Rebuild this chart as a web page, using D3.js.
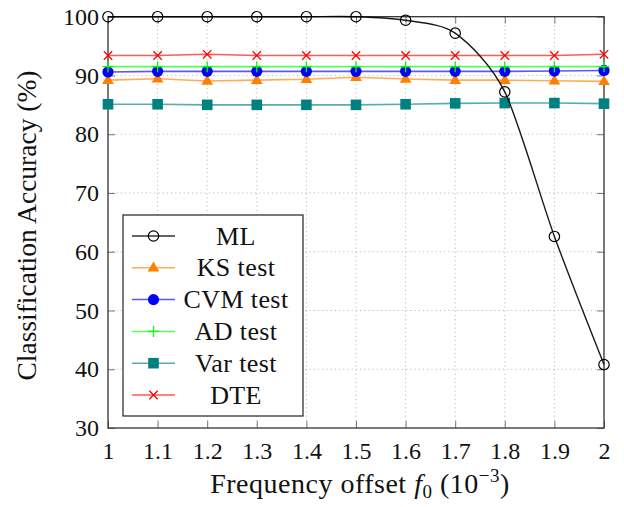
<!DOCTYPE html>
<html>
<head>
<meta charset="utf-8">
<script src="https://cdn.jsdelivr.net/npm/d3@7"></script>
<style>
  html, body { margin: 0; padding: 0; background: #fff; }
  svg { display: block; }
  text { font-family: "Liberation Serif", "DejaVu Serif", serif; fill: #111; }
</style>
</head>
<body>
<svg id="chart" width="624" height="507"></svg>
<script>
// ---- data ----
const xValues = [1, 1.1, 1.2, 1.3, 1.4, 1.5, 1.6, 1.7, 1.8, 1.9, 2];
const xTickLabels = ["1", "1.1", "1.2", "1.3", "1.4", "1.5", "1.6", "1.7", "1.8", "1.9", "2"];
const yTicks = [30, 40, 50, 60, 70, 80, 90, 100];

const mlValues  = [100, 100, 100, 100, 100, 100, 99.4, 97.2, 87.2, 62.6, 40.8];
const ksValues  = [89.2, 89.45, 89.05, 89.2, 89.35, 89.7, 89.4, 89.2, 89.2, 89.1, 89.0];
const cvmValues = [90.6, 90.7, 90.7, 90.7, 90.7, 90.7, 90.7, 90.7, 90.7, 90.75, 90.85];
const adValues  = [91.5, 91.5, 91.5, 91.5, 91.5, 91.5, 91.5, 91.5, 91.5, 91.5, 91.5];
const varValues = [85.1, 85.1, 85.0, 85.0, 85.0, 85.0, 85.1, 85.25, 85.3, 85.3, 85.2];
const dteValues = [93.4, 93.4, 93.6, 93.4, 93.4, 93.4, 93.4, 93.4, 93.4, 93.4, 93.6];

const seriesNames = ["ML", "KS test", "CVM test", "AD test", "Var test", "DTE"];

// ---- layout ----
const svg = d3.select("#chart");
const pLeft = 108, pRight = 604, pTop = 16.7, pBottom = 428;

const x = d3.scaleLinear().domain([1, 2]).range([pLeft, pRight]);
const y = d3.scaleLinear().domain([30, 100]).range([pBottom, pTop]);

const series = [
  { name: seriesNames[0], values: mlValues,  color: "#000000", marker: "circle", smooth: true },
  { name: seriesNames[1], values: ksValues,  color: "#ff8000", marker: "triangle" },
  { name: seriesNames[2], values: cvmValues, color: "#0000ff", marker: "dot" },
  { name: seriesNames[3], values: adValues,  color: "#00ff00", marker: "plus" },
  { name: seriesNames[4], values: varValues, color: "#008080", marker: "square" },
  { name: seriesNames[5], values: dteValues, color: "#ff0000", marker: "cross" }
];

// grid
const grid = svg.append("g");
grid.selectAll("line.vx").data(xValues.slice(1, -1)).join("line")
  .attr("x1", d => x(d)).attr("x2", d => x(d))
  .attr("y1", pTop).attr("y2", pBottom)
  .attr("stroke", "#bdbdbd").attr("stroke-width", 1).attr("stroke-dasharray", "1.2,3");
grid.selectAll("line.hy").data(yTicks.slice(1, -1)).join("line")
  .attr("y1", d => y(d)).attr("y2", d => y(d))
  .attr("x1", pLeft).attr("x2", pRight)
  .attr("stroke", "#bdbdbd").attr("stroke-width", 1).attr("stroke-dasharray", "1.2,3");

// axes via d3 axis (inner ticks on all four sides)
const tickLen = 7;
const axB = svg.append("g").attr("transform", `translate(0,${pBottom})`)
  .call(d3.axisBottom(x).tickValues(xValues).tickFormat((d, i) => xTickLabels[i]).tickSizeInner(-tickLen).tickSizeOuter(0).tickPadding(14));
const axT = svg.append("g").attr("transform", `translate(0,${pTop})`)
  .call(d3.axisTop(x).tickValues(xValues).tickFormat("").tickSizeInner(-tickLen).tickSizeOuter(0));
const axL = svg.append("g").attr("transform", `translate(${pLeft},0)`)
  .call(d3.axisLeft(y).tickValues(yTicks).tickFormat(d3.format("d")).tickSizeInner(-tickLen).tickSizeOuter(0).tickPadding(9));
const axR = svg.append("g").attr("transform", `translate(${pRight},0)`)
  .call(d3.axisRight(y).tickValues(yTicks).tickFormat("").tickSizeInner(-tickLen).tickSizeOuter(0));
[axB, axT, axL, axR].forEach(a => {
  a.select(".domain").remove();
  a.selectAll(".tick line").attr("stroke", "#777").attr("stroke-width", 1);
});
axB.selectAll(".tick text").attr("font-size", 24).attr("font-family", "Liberation Serif").attr("fill", "#111");
axL.selectAll(".tick text").attr("font-size", 24).attr("font-family", "Liberation Serif").attr("fill", "#111");

// frame
svg.append("rect").attr("x", pLeft).attr("y", pTop).attr("width", pRight - pLeft).attr("height", pBottom - pTop)
  .attr("fill", "none").attr("stroke", "#333").attr("stroke-width", 1.3);

// marker drawing
function drawMarker(g, type, color, cx, cy) {
  if (type === "circle") {
    g.append("circle").attr("cx", cx).attr("cy", cy).attr("r", 5.2)
      .attr("fill", "none").attr("stroke", "#000").attr("stroke-width", 1.2);
  } else if (type === "dot") {
    g.append("circle").attr("cx", cx).attr("cy", cy).attr("r", 5.6).attr("fill", color);
  } else if (type === "triangle") {
    const s = 6.2;
    g.append("path").attr("d", `M${cx},${cy - s} L${cx + s * 0.95},${cy + s * 0.6} L${cx - s * 0.95},${cy + s * 0.6}Z`)
      .attr("fill", color);
  } else if (type === "square") {
    g.append("rect").attr("x", cx - 5.3).attr("y", cy - 5.3).attr("width", 10.6).attr("height", 10.6).attr("fill", color);
  } else if (type === "plus") {
    g.append("path").attr("d", `M${cx - 5.5},${cy} H${cx + 5.5} M${cx},${cy - 5.5} V${cy + 5.5}`)
      .attr("stroke", color).attr("stroke-width", 1.3);
  } else if (type === "cross") {
    const s = 4.2;
    g.append("path").attr("d", `M${cx - s},${cy - s} L${cx + s},${cy + s} M${cx - s},${cy + s} L${cx + s},${cy - s}`)
      .attr("stroke", color).attr("stroke-width", 1.3);
  }
}

// series (draw ML last)
const order = [1, 2, 3, 4, 5, 0];
order.forEach(i => {
  const s = series[i];
  const g = svg.append("g");
  const line = d3.line().x((d, j) => x(xValues[j])).y(d => y(d))
    .curve(s.smooth ? d3.curveCardinal.tension(0.2) : d3.curveLinear);
  g.append("path").attr("d", line(s.values)).attr("fill", "none")
    .attr("stroke", s.color).attr("stroke-width", s.smooth ? 1.4 : 1.6)
    .attr("stroke-opacity", s.smooth ? 0.9 : 0.65);
  s.values.forEach((v, j) => drawMarker(g, s.marker, s.color, x(xValues[j]), y(v)));
});

// legend
const lg = svg.append("g");
lg.append("rect").attr("x", 123).attr("y", 215).attr("width", 180).attr("height", 201)
  .attr("fill", "#fff").attr("stroke", "#222").attr("stroke-width", 1.2);
series.forEach((s, i) => {
  const cy = 236 + i * 31.8;
  lg.append("line").attr("x1", 132).attr("x2", 175).attr("y1", cy).attr("y2", cy)
    .attr("stroke", s.color).attr("stroke-width", 1.5).attr("stroke-opacity", s.smooth ? 0.8 : 0.65);
  drawMarker(lg, s.marker, s.color, 153.5, cy);
  lg.append("text").attr("x", 236).attr("y", cy + 8.5).attr("text-anchor", "middle")
    .attr("font-size", 26).attr("letter-spacing", 0.4).text(s.name);
});

// axis titles
const xt = svg.append("text").attr("x", 360).attr("y", 493).attr("text-anchor", "middle")
  .attr("font-size", 28).attr("letter-spacing", 0.5);
xt.append("tspan").text("Frequency offset ");
xt.append("tspan").attr("font-style", "italic").text("f");
xt.append("tspan").attr("font-size", 19).attr("dy", 5).text("0");
xt.append("tspan").attr("dy", -5).text(" (10");
xt.append("tspan").attr("font-size", 19).attr("dy", -11).text("−3");
xt.append("tspan").attr("dy", 11).text(")");

svg.append("text").attr("transform", "translate(36,225.5) rotate(-90)")
  .attr("text-anchor", "middle").attr("font-size", 27.5).text("Classification Accuracy (%)");
</script>
</body>
</html>
